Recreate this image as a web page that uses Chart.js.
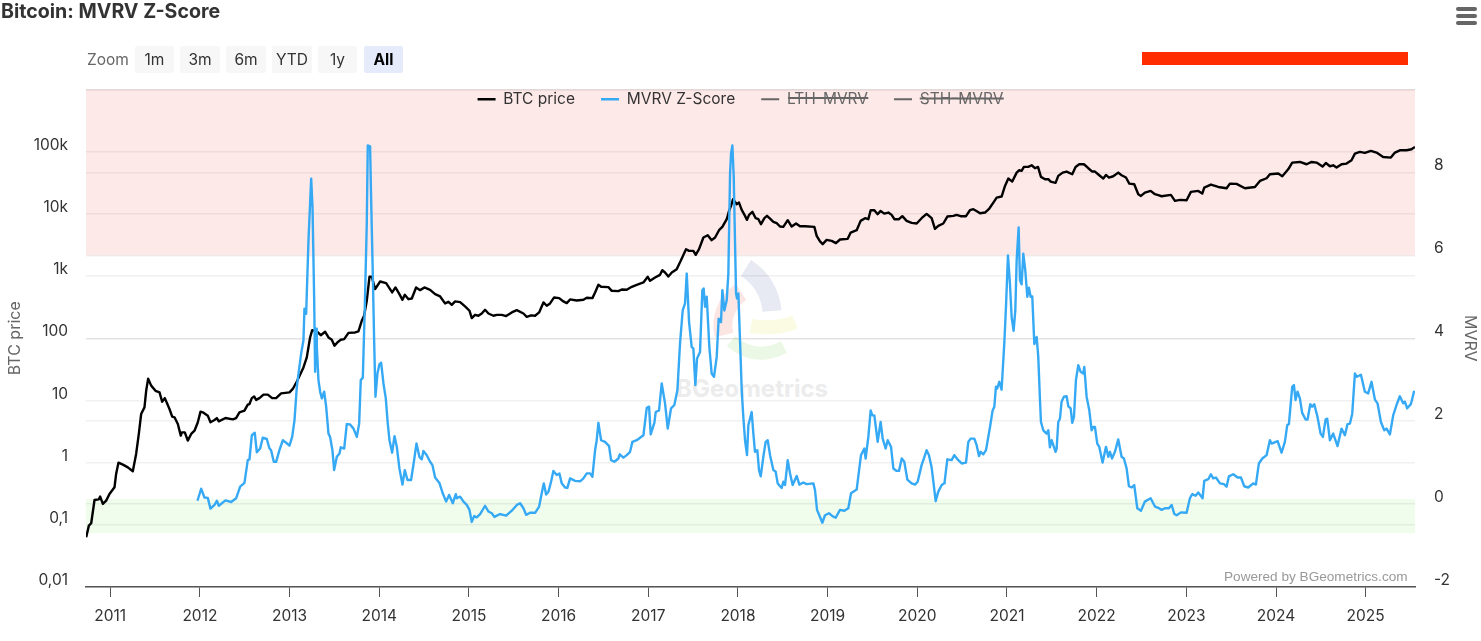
<!DOCTYPE html>
<html>
<head>
<meta charset="utf-8">
<title>Bitcoin: MVRV Z-Score</title>
<script src="https://cdn.jsdelivr.net/npm/chart.js@4"></script>
<style>
  html, body { margin: 0; padding: 0; background: #fff; }
  body { width: 1481px; height: 641px; position: relative; overflow: hidden; font-family: Inter, sans-serif; color: #333; }
  #watermark, #chart, .abs { position: absolute; }
  #watermark { left: 0; top: 0; }
  #chart { left: 0; top: 0; }
  #title { left: 1px; top: 0; font-size: 19.6px; line-height: 22px; font-weight: 700; color: #333; }
  #zoomLabel { left: 87px; top: 50px; font-size: 15.5px; line-height: 20px; color: #666; }
  .btn { top: 46px; height: 27px; line-height: 27px; text-align: center; font-size: 15.5px; background: #f7f7f7; border-radius: 2px; color: #333; }
  .btn.on { background: #e6ebfb; font-weight: 700; color: #000; }
  #redact { left: 1142px; top: 52px; width: 266px; height: 13px; background: #ff2d00; }
  .bar { left: 1456px; width: 21px; height: 3.5px; background: #666; border-radius: 2px; }
  #credit { left: 1224px; top: 569px; font-family: "Liberation Sans", sans-serif; font-size: 13.6px; line-height: 16px; color: #999; }
</style>
</head>
<body>
<svg id="watermark" width="1481" height="641">
  <g fill="none" stroke-width="19">
    <path d="M746 268 A56 56 0 0 1 772 311" stroke="#e7e9f3"/>
    <path d="M741 292 A40 40 0 0 0 724 335" stroke="#fbe6e4"/>
    <path d="M751 326 Q775 330 795 322" stroke="#fbfbe4" stroke-width="14"/>
    <path d="M731 341 Q755 362 784 347" stroke="#ecf8e6" stroke-width="13"/>
  </g>
  <text x="752" y="397" text-anchor="middle" font-family="Inter, sans-serif" font-weight="700" font-size="24" fill="#ececec">BGeometrics</text>
</svg>
<canvas id="chart" width="1481" height="641"></canvas>
<div class="abs" id="title">Bitcoin: MVRV Z-Score</div>
<div class="abs" id="zoomLabel">Zoom</div>
<div class="abs btn" style="left:135px;width:39px">1m</div>
<div class="abs btn" style="left:180px;width:40px">3m</div>
<div class="abs btn" style="left:226px;width:40px">6m</div>
<div class="abs btn" style="left:272px;width:40px">YTD</div>
<div class="abs btn" style="left:318px;width:39px">1y</div>
<div class="abs btn on" style="left:364px;width:39px">All</div>
<div class="abs" id="redact"></div>
<div class="abs bar" style="top:7px"></div>
<div class="abs bar" style="top:14px"></div>
<div class="abs bar" style="top:21px"></div>
<div class="abs" id="credit">Powered by BGeometrics.com</div>
<script>
const priceYears = [
  2010.732,2010.762,2010.788,2010.825,2010.873,2010.888,2010.918,2010.955,2010.992,2011.048,
  2011.066,2011.092,2011.141,2011.197,2011.252,2011.289,2011.319,2011.345,2011.382,2011.401,
  2011.423,2011.457,2011.505,2011.55,2011.579,2011.609,2011.661,2011.691,2011.717,2011.754,
  2011.787,2011.799,2011.832,2011.865,2011.903,2011.94,2011.977,2012.007,2012.04,2012.088,
  2012.118,2012.163,2012.189,2012.211,2012.285,2012.367,2012.404,2012.441,2012.497,2012.534,
  2012.553,2012.579,2012.605,2012.627,2012.664,2012.709,2012.757,2012.806,2012.85,2012.906,
  2012.999,2013.036,2013.081,2013.129,
  2013.155,2013.192,2013.229,2013.252,2013.304,2013.348,2013.397,2013.434,2013.471,2013.501,
  2013.534,2013.571,2013.609,2013.657,2013.731,2013.768,2013.805,2013.831,2013.861,2013.891,
  2013.917,2013.954,2014.01,2014.077,2014.144,2014.181,2014.225,2014.259,2014.285,2014.326,
  2014.363,2014.411,2014.456,2014.504,2014.567,2014.623,2014.679,2014.734,2014.772,2014.809,
  2014.846,2014.902,2014.957,2015.006,2015.032,2015.069,2015.106,2015.143,2015.18,2015.218,
  2015.273,2015.31,2015.366,2015.415,2015.478,2015.534,
  2015.608,2015.645,2015.693,2015.738,2015.783,2015.831,2015.868,2015.905,2015.95,2016.006,
  2016.054,2016.091,2016.128,2016.202,2016.277,2016.314,2016.377,2016.407,2016.444,2016.474,
  2016.555,2016.593,2016.667,2016.704,2016.76,2016.816,2016.871,2016.946,2016.994,2017.02,
  2017.076,2017.131,2017.157,2017.187,2017.224,2017.262,2017.317,2017.362,2017.421,2017.455,
  2017.503,2017.529,2017.566,2017.615,2017.663,2017.707,2017.745,2017.789,2017.826,2017.875,
  2017.901,
  2017.923,2017.945,2017.986,2018.012,2018.042,2018.079,2018.101,2018.124,2018.161,2018.198,
  2018.228,2018.257,2018.295,2018.324,2018.358,2018.395,2018.432,2018.469,2018.506,2018.555,
  2018.599,2018.648,2018.692,2018.748,2018.852,2018.878,2018.915,2018.945,2018.989,2019.045,
  2019.093,2019.138,2019.224,2019.257,2019.324,2019.368,2019.417,2019.454,2019.48,2019.521,
  2019.558,2019.591,2019.632,2019.677,2019.714,2019.744,2019.796,2019.833,2019.881,2019.937,
  2019.993,2020.048,2020.104,2020.16,2020.197,2020.234,2020.29,
  2020.335,2020.402,2020.439,2020.483,2020.543,2020.587,2020.625,2020.669,2020.699,2020.755,
  2020.803,2020.848,2020.885,2020.94,2020.978,2021.015,2021.059,2021.108,2021.137,2021.163,
  2021.189,2021.238,2021.275,2021.312,2021.346,2021.379,2021.424,2021.461,2021.487,2021.542,
  2021.572,2021.621,2021.665,2021.728,2021.765,2021.806,2021.858,2021.907,2021.951,2021.981,
  2022.029,2022.074,2022.104,2022.137,2022.185,2022.241,2022.278,2022.327,2022.364,2022.419,
  2022.464,2022.494,2022.538,2022.602,2022.65,2022.687,
  2022.724,2022.828,2022.873,2022.929,2023.003,2023.051,2023.133,2023.178,2023.2,2023.274,
  2023.356,2023.449,2023.486,2023.56,2023.653,2023.765,2023.821,2023.895,2023.932,2024.025,
  2024.07,2024.136,2024.181,2024.266,2024.341,2024.397,2024.452,2024.519,2024.556,2024.601,
  2024.638,2024.675,2024.731,2024.787,2024.842,2024.88,2024.935,2024.991,2025.058,2025.121,
  2025.195,2025.281,2025.326,2025.381,2025.456,2025.511,2025.549
];
const priceValues = [
  0.063,0.097,0.106,0.251,0.257,0.284,0.217,0.245,0.314,0.402,
  0.657,1.00,0.93,0.84,0.726,1.38,2.89,6.05,7.74,14.3,
  22.4,17.3,14.3,13.5,9.55,10.9,7.28,5.48,5.35,4.18,
  2.72,3.07,3.07,2.26,2.89,3.26,4.45,6.6,6.35,5.69,
  4.45,4.84,5.21,4.61,5.21,4.96,5.21,6.43,6.84,8.55,
  8.75,10.9,11.6,10.2,10.9,12.4,12.4,10.9,10.9,13.0,
  13.5,15.3,20.2,28.2,
  34,49.2,103,135,129,112,127,103,94.6,75.8,
  85.7,94.6,97,122,124,129,191,230,400,973,
  973,616,818,770,545,656,512,415,499,425,
  436,656,594,656,601,512,470,363,385,345,
  391,381,325,277,211,238,230,250,287,250,
  230,238,238,227,260,283,
  250,221,233,230,260,377,333,363,453,442,
  391,367,421,405,415,448,442,545,723,672,
  664,579,573,608,601,672,723,789,973,839,
  949,1047,1245,1142,985,1142,1291,1758,2706,2543,
  2543,2194,2706,4168,4540,3776,4168,5463,6180,8210,
  11160,
  13450,17200,14300,15200,11600,9290,8010,9630,10760,8520,
  8210,6820,8520,9290,8410,7440,7080,6260,6180,7910,
  6260,7000,6340,6340,6180,4430,3600,3260,3820,3680,
  3380,3870,3970,5010,5463,7720,8520,8210,11450,11450,
  9880,11160,10100,10500,9630,8210,8210,9180,7720,7170,
  7000,8520,10000,8520,5740,6410,7000,
  9060,9290,9630,9180,9180,11450,11880,10900,10250,10500,
  12190,15200,18300,19000,28180,36980,33050,46100,50300,49100,
  56900,56900,60500,54200,56900,39300,36100,36100,33050,31500,
  40800,46100,47900,43400,56900,62800,62800,54200,47900,47900,
  41800,36980,42300,38400,40300,46100,41800,38400,30700,30000,
  20700,19450,22000,23400,20700,19950,
  19200,20200,16170,16800,16600,22570,23400,21200,26500,29600,
  27100,25850,30700,30350,25850,27100,33900,37400,43400,44500,
  40300,52100,66800,68400,62800,68400,66800,57600,65900,58300,
  60400,55500,62800,64300,72800,93100,99100,95500,102800,96700,
  82300,80400,96700,105300,105300,109300,119200
];
const mvrvYears = [
  2011.973,2012.014,2012.051,2012.088,2012.118,2012.163,2012.189,2012.211,2012.285,2012.349,
  2012.404,2012.449,2012.497,2012.534,2012.553,2012.579,2012.612,2012.635,2012.672,2012.701,
  2012.746,2012.776,2012.794,2012.824,2012.85,2012.887,2012.925,2012.962,2012.999,2013.029,
  2013.055,2013.081,2013.129,
  2013.155,2013.166,2013.185,2013.211,2013.241,2013.256,2013.274,2013.285,2013.296,2013.304,
  2013.322,2013.341,2013.36,2013.386,2013.408,2013.434,2013.452,2013.478,2013.497,2013.527,
  2013.557,2013.571,2013.609,2013.638,2013.675,2013.713,2013.75,2013.776,2013.794,2013.817,
  2013.839,2013.861,2013.872,2013.898,2013.909,2013.928,2013.943,2013.958,2013.98,2014.002,
  2014.021,2014.047,2014.073,2014.095,2014.114,2014.144,2014.17,2014.196,2014.225,2014.259,
  2014.285,2014.315,2014.355,2014.389,2014.415,2014.448,2014.474,2014.493,2014.53,2014.567,
  2014.593,2014.623,2014.671,2014.708,2014.746,2014.779,2014.82,2014.854,2014.865,2014.902,
  2014.939,2014.976,2015.006,2015.032,2015.058,2015.087,2015.125,2015.18,2015.218,2015.255,
  2015.284,2015.348,2015.415,2015.478,2015.534,
  2015.571,2015.608,2015.638,2015.682,2015.738,2015.783,2015.812,2015.835,2015.861,2015.887,
  2015.916,2015.942,2015.979,2016.009,2016.035,2016.072,2016.098,2016.128,2016.184,2016.24,
  2016.277,2016.314,2016.351,2016.377,2016.407,2016.425,2016.444,2016.474,2016.518,2016.563,
  2016.585,2016.622,2016.667,2016.682,2016.723,2016.76,2016.797,2016.823,2016.871,2016.946,
  2016.983,2017.009,2017.027,2017.068,2017.083,2017.12,2017.15,2017.187,2017.217,2017.254,
  2017.291,2017.325,2017.354,2017.384,2017.41,2017.429,2017.455,2017.484,2017.503,2017.525,
  2017.544,2017.577,2017.603,2017.618,2017.633,2017.652,2017.681,2017.707,2017.733,2017.763,
  2017.785,2017.811,2017.826,2017.848,2017.875,
  2017.893,2017.912,2017.923,2017.938,2017.953,2017.967,2017.979,2017.99,2018.005,2018.023,
  2018.042,2018.06,2018.079,2018.101,2018.116,2018.153,2018.172,2018.19,2018.216,2018.235,
  2018.254,2018.283,2018.309,2018.332,2018.358,2018.395,2018.421,2018.443,2018.469,2018.488,
  2018.506,2018.525,2018.555,2018.581,2018.61,2018.655,2018.685,2018.729,2018.766,2018.841,
  2018.859,2018.882,2018.915,2018.941,2018.971,2019.015,2019.053,2019.09,2019.138,2019.186,
  2019.231,2019.261,2019.324,2019.372,2019.409,2019.424,2019.454,2019.48,2019.498,2019.521,
  2019.558,2019.591,2019.614,2019.647,2019.67,2019.707,2019.733,2019.77,2019.796,2019.826,
  2019.855,2019.889,2019.937,2019.974,2020.004,2020.048,2020.086,2020.104,2020.13,2020.16,
  2020.179,2020.205,2020.234,2020.272,2020.298,
  2020.305,2020.335,2020.383,2020.413,2020.457,2020.495,2020.543,2020.569,2020.595,2020.636,
  2020.662,2020.688,2020.706,2020.736,2020.766,2020.811,2020.84,2020.859,2020.877,2020.892,
  2020.914,2020.94,2020.97,2020.989,2021.011,2021.033,2021.052,2021.074,2021.093,2021.108,
  2021.13,2021.145,2021.163,2021.182,2021.204,2021.227,2021.245,2021.264,2021.282,2021.305,
  2021.331,2021.349,2021.368,2021.379,2021.405,2021.442,2021.461,2021.479,2021.498,2021.542,
  2021.554,2021.572,2021.591,2021.609,2021.635,2021.665,2021.684,2021.71,2021.728,2021.747,
  2021.769,2021.795,2021.821,2021.851,2021.862,2021.888,2021.918,2021.944,2021.962,2021.981,
  2022.007,2022.029,2022.066,2022.104,2022.13,2022.148,2022.171,2022.204,2022.241,2022.278,
  2022.304,2022.334,2022.36,2022.39,2022.419,2022.453,2022.494,2022.538,2022.602,2022.65,
  2022.687,
  2022.724,2022.761,2022.806,2022.836,2022.866,2022.892,2022.94,2023.003,2023.04,2023.066,
  2023.103,2023.133,2023.181,2023.2,2023.245,2023.274,2023.3,2023.33,2023.375,2023.419,
  2023.449,2023.475,2023.523,2023.572,2023.609,2023.646,2023.69,2023.746,2023.776,2023.809,
  2023.847,2023.895,2023.932,2023.951,2024.018,2024.062,2024.099,2024.125,2024.144,2024.181,
  2024.2,2024.218,2024.24,2024.266,2024.292,2024.33,2024.352,2024.382,2024.404,2024.426,
  2024.463,2024.497,2024.523,2024.553,2024.571,2024.601,2024.638,2024.686,2024.731,2024.768,
  2024.798,2024.824,2024.85,2024.88,2024.902,2024.947,2024.991,2025.028,2025.065,2025.103,
  2025.132,2025.17,2025.207,2025.233,2025.27,2025.307,2025.344,2025.381,2025.418,2025.437,
  2025.463,2025.504,2025.541
];
const mvrvValues = [
  0.08,0.37,0.16,0.15,-0.11,-0.02,0.08,-0.04,0.09,0.05,
  0.14,0.42,0.51,1.06,1.08,1.66,1.72,1.25,1.34,1.60,
  1.57,1.34,1.30,1.02,1.02,1.30,1.54,1.48,1.41,1.62,
  2.02,2.83,3.63,
  3.95,4.71,4.59,6.36,7.85,7.16,5.00,3.19,4.23,3.79,
  2.99,2.71,2.55,2.71,2.35,1.70,1.62,1.30,0.82,1.14,
  1.22,1.37,1.34,1.93,1.92,1.82,1.62,1.94,2.99,3.05,
  4.76,6.76,8.65,8.63,7.41,5.56,3.95,2.59,3.15,3.37,
  3.41,2.91,2.55,1.94,1.54,1.24,1.64,1.38,0.86,0.47,
  0.82,0.58,0.58,1.06,1.46,1.14,1.08,1.28,1.18,1.02,
  0.94,0.64,0.51,0.26,0.06,0.22,0.02,0.24,0.14,0.18,
  0.06,-0.02,-0.14,-0.43,-0.29,-0.32,-0.24,-0.04,-0.18,-0.22,
  -0.31,-0.24,-0.28,-0.16,-0.02,
  0.02,-0.10,-0.26,-0.21,-0.21,-0.06,0.26,0.50,0.23,0.30,
  0.54,0.80,0.70,0.74,0.50,0.40,0.39,0.62,0.56,0.55,
  0.62,0.74,0.74,0.66,1.30,1.54,1.96,1.54,1.50,1.40,
  1.06,1.02,1.10,1.20,1.12,1.18,1.26,1.50,1.54,1.66,
  2.32,2.35,1.68,1.96,2.22,2.26,2.91,2.43,1.82,2.31,
  2.39,2.75,3.87,4.67,4.84,5.56,4.39,3.79,3.75,2.87,
  3.51,3.67,5.16,5.20,4.76,5.00,3.79,3.15,3.07,3.55,
  4.47,4.39,5.16,4.67,4.92,
  5.56,7.97,8.45,8.65,7.89,6.36,5.08,4.96,5.08,3.95,
  2.75,2.10,1.54,1.18,1.90,2.22,1.70,1.26,1.30,0.82,
  0.67,1.14,1.50,1.54,1.18,0.82,0.78,0.50,0.43,0.39,
  0.54,0.46,1.06,0.74,0.46,0.68,0.47,0.52,0.48,0.50,
  0.34,-0.14,-0.31,-0.45,-0.27,-0.22,-0.29,-0.33,-0.14,-0.16,
  -0.10,0.26,0.35,1.18,1.34,1.10,1.62,2.26,2.14,2.14,
  1.50,1.98,1.58,1.34,1.54,1.38,0.86,0.80,0.80,1.10,
  1.02,0.59,0.50,0.47,0.54,0.94,1.18,1.30,1.18,0.88,
  0.54,0.07,0.30,0.46,0.50,
  0.54,1.08,1.06,1.18,1.06,0.98,1.00,1.50,1.58,1.58,
  1.42,1.16,1.26,1.20,1.30,1.86,2.26,2.35,2.83,2.79,
  2.95,2.76,3.87,4.76,6.00,5.32,4.51,4.18,4.67,5.88,
  6.67,5.40,5.30,6.04,5.64,5.00,5.22,5.00,5.01,3.86,
  4.03,3.55,2.51,1.98,1.78,1.70,1.78,1.37,1.54,1.26,
  1.34,1.98,2.06,2.47,2.59,2.60,2.36,2.31,1.96,2.10,
  2.99,3.35,3.19,3.15,3.31,2.59,2.26,1.78,1.86,1.86,
  1.46,1.38,1.00,1.38,1.14,1.26,1.10,1.26,1.56,1.14,
  1.10,0.86,0.43,0.40,0.46,-0.10,-0.16,0.06,0.14,-0.06,
  -0.09,
  -0.14,-0.10,-0.10,-0.02,-0.24,-0.27,-0.20,-0.21,0.14,0.24,
  0.20,0.28,0.14,0.56,0.60,0.72,0.62,0.64,0.50,0.48,
  0.42,0.67,0.72,0.64,0.64,0.43,0.40,0.50,0.47,0.98,
  1.10,1.18,1.54,1.46,1.52,1.24,1.50,1.90,1.93,2.83,
  2.87,2.51,2.71,2.55,2.20,2.04,2.04,2.41,2.35,2.41,
  2.10,1.70,1.62,2.04,2.06,1.54,1.70,1.40,1.82,1.66,
  1.93,1.94,2.18,3.15,3.07,3.12,2.71,2.67,2.95,2.52,
  2.43,1.98,1.78,1.82,1.68,2.14,2.39,2.60,2.43,2.47,
  2.31,2.41,2.73
];
const seriesNames = ['BTC price', 'MVRV Z-Score', 'LTH-MVRV', 'STH-MVRV'];
const yearTicks = [2011,2012,2013,2014,2015,2016,2017,2018,2019,2020,2021,2022,2023,2024,2025];
const priceTicks = [0.01,0.1,1,10,100,1000,10000,100000,1000000];
const priceTickLabels = ['0,01','0,1','1','10','100','1k','10k','100k',''];
const mvrvTicks = [-2,0,2,4,6,8,10];
const mvrvTickLabels = ['-2','0','2','4','6','8',''];
const redBand = [6, 10];
const greenBand = [-0.7, 0.12];

const toPoints = (xs, ys) => xs.map((x, i) => ({ x: x, y: ys[i] }));
const setTicks = (values) => (scale) => { scale.ticks = values.map(v => ({ value: v })); };

// colour zones sit behind the grid, so they go in before anything else
const bandsPlugin = {
  id: 'bands',
  beforeDraw(chart) {
    const { ctx, chartArea, scales } = chart;
    const fill = (band, color) => {
      const top = scales.mvrv.getPixelForValue(band[1]);
      const bottom = scales.mvrv.getPixelForValue(band[0]);
      ctx.fillStyle = color;
      ctx.fillRect(chartArea.left, top, chartArea.width, bottom - top);
    };
    fill(redBand, '#fee9e9');
    fill(greenBand, '#f0fcec');
  }
};

// the legend sits inside the plot, a layout box cannot do that by itself
const legendPlugin = {
  id: 'legendInPlot',
  afterLayout(chart) {
    const legend = chart.legend;
    const height = legend.bottom - legend.top;
    legend.top = chart.chartArea.top - 24;
    legend.bottom = legend.top + height;
  }
};

const gridColor = 'rgba(0,0,0,0.06)';

new Chart(document.getElementById('chart').getContext('2d'), {
  type: 'line',
  data: {
    datasets: [
      { label: seriesNames[0], data: toPoints(priceYears, priceValues), yAxisID: 'price', borderColor: '#000', backgroundColor: '#000', borderWidth: 2.4, borderJoinStyle: 'round', order: 2 },
      { label: seriesNames[1], data: toPoints(mvrvYears, mvrvValues), yAxisID: 'mvrv', borderColor: '#36a9f5', backgroundColor: '#36a9f5', borderWidth: 2.4, borderJoinStyle: 'round', order: 1 },
      { label: seriesNames[2], data: [], yAxisID: 'mvrv', borderColor: '#666', backgroundColor: '#666', borderWidth: 2, hidden: true, order: 3 },
      { label: seriesNames[3], data: [], yAxisID: 'mvrv', borderColor: '#666', backgroundColor: '#666', borderWidth: 2, hidden: true, order: 4 }
    ]
  },
  options: {
    responsive: false,
    animation: false,
    events: [],
    layout: { padding: { top: 38, left: 0, right: 0, bottom: 0 } },
    elements: { point: { radius: 0 }, line: { tension: 0 } },
    font: { family: 'Inter' },
    scales: {
      x: {
        type: 'linear',
        min: 2010.73,
        max: 2025.55,
        afterBuildTicks: setTicks(yearTicks),
        afterFit: (s) => { s.height = 54; },
        grid: { drawOnChartArea: false, tickColor: '#555', tickLength: 10, tickWidth: 1 },
        border: { color: '#555', width: 1.5 },
        ticks: { autoSkip: false, maxRotation: 0, color: '#333', padding: 10, font: { family: 'Inter', size: 15.5 }, callback: (v) => String(v) }
      },
      price: {
        type: 'logarithmic',
        position: 'left',
        min: 0.01,
        max: 1000000,
        afterBuildTicks: setTicks(priceTicks),
        afterFit: (s) => { s.width = 86; },
        grid: { color: gridColor, lineWidth: 1.4, drawTicks: false },
        border: { display: false },
        title: { display: true, text: 'BTC price', color: '#666', font: { family: 'Inter', size: 16 }, padding: { top: 6, bottom: 0 } },
        ticks: { autoSkip: false, color: '#333', padding: 18, labelOffset: -6.5, font: { family: 'Inter', size: 15.5 }, callback: (v, i) => priceTickLabels[i] }
      },
      mvrv: {
        type: 'linear',
        position: 'right',
        min: -2,
        max: 10,
        afterBuildTicks: setTicks(mvrvTicks),
        afterFit: (s) => { s.width = 66; },
        grid: { color: gridColor, lineWidth: 1.4, drawTicks: false },
        border: { display: false },
        title: { display: true, text: 'MVRV', color: '#666', font: { family: 'Inter', size: 16 }, padding: { top: 2, bottom: 0 } },
        ticks: { autoSkip: false, color: '#333', padding: 19, labelOffset: -7, font: { family: 'Inter', size: 15.5 }, callback: (v, i) => mvrvTickLabels[i] }
      }
    },
    plugins: {
      tooltip: { enabled: false },
      legend: {
        position: 'top',
        labels: {
          usePointStyle: true,
          pointStyle: 'line',
          pointStyleWidth: 18,
          padding: 26,
          color: '#333',
          font: { family: 'Inter', size: 15.5 },
          sort: (a, b) => a.datasetIndex - b.datasetIndex,
          generateLabels(chart) {
            return Chart.defaults.plugins.legend.labels.generateLabels(chart).map(item => {
              if (item.hidden) item.fontColor = '#666';
              return item;
            });
          }
        }
      }
    }
  },
  plugins: [bandsPlugin, legendPlugin]
});
</script>
</body>
</html>
